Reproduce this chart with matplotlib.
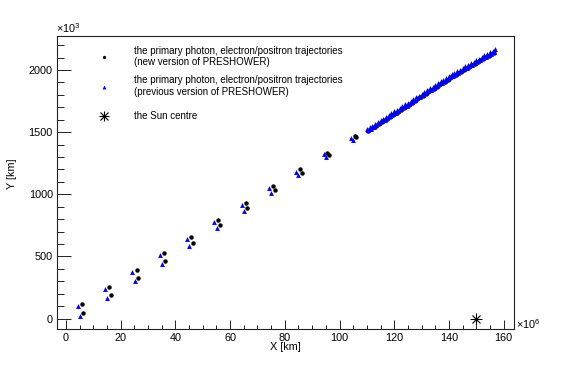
import matplotlib
matplotlib.use('Agg')
import matplotlib.pyplot as plt
from matplotlib.lines import Line2D
from matplotlib.legend_handler import HandlerTuple
from matplotlib.ticker import MultipleLocator

plt.rcParams['font.family'] = ['Liberation Sans', 'DejaVu Sans']
plt.rcParams['mathtext.fontset'] = 'custom'
plt.rcParams['mathtext.rm'] = 'Liberation Sans'

# X in 10^6 km, Y in 10^3 km
# the two trajectories of each run, sampled every 10^7 km up to ~106
x_new_pairs = [5.75, 6.35, 15.75, 16.4, 25.8, 26.3, 35.8, 36.3, 45.7, 46.3, 55.7, 56.3,
               65.7, 66.3, 75.7, 76.3, 85.6, 86.2, 95.5, 96.1, 105.6, 106.2]
y_new_pairs = [120, 48, 255, 188, 389, 325, 526, 466, 660, 611, 796, 751,
               930, 890, 1067, 1032, 1201, 1172, 1335, 1316, 1469, 1459]
x_prev_pairs = [4.4, 5.1, 14.4, 15.1, 24.3, 25.1, 34.3, 35.2, 44.3, 45.05, 54.2, 55.05,
                64.2, 65.1, 74.2, 75.1, 84.2, 84.9, 94.2, 94.9, 104.3, 104.9]
y_prev_pairs = [102, 22, 236, 164, 373, 303, 510, 443, 641, 585, 778, 727,
                912, 866, 1048, 1011, 1182, 1153, 1322, 1298, 1456, 1440]

# dense part of the trajectories beyond ~110
x_int = [110, 111, 112, 113, 114, 115, 116, 117, 118, 119, 120, 121, 122, 123, 124, 125,
         126, 127, 128, 129, 130, 131, 132, 133, 134, 135, 136, 137, 138, 139, 140, 141,
         142, 143, 144, 145, 146, 147, 148, 149, 150, 151, 152, 153, 154, 155, 156, 157]
x_half = [110.5, 111.5, 112.5, 113.5, 114.5, 115.5, 116.5, 117.5, 118.5, 119.5, 120.5,
          121.5, 122.5, 123.5, 124.5, 125.5, 126.5, 127.5, 128.5, 129.5, 130.5, 131.5,
          132.5, 133.5, 134.5, 135.5, 136.5, 137.5, 138.5, 139.5, 140.5, 141.5, 142.5,
          143.5, 144.5, 145.5, 146.5, 147.5, 148.5, 149.5, 150.5, 151.5, 152.5, 153.5,
          154.5, 155.5, 156.5]
y_prev_a = [1524, 1538, 1553, 1567, 1581, 1595, 1609, 1624, 1638, 1652, 1666, 1680, 1695, 1709,
            1723, 1737, 1751, 1766, 1780, 1794, 1808, 1822, 1837, 1851, 1865, 1879, 1893, 1908,
            1922, 1936, 1950, 1964, 1977, 1989, 2002, 2015, 2028, 2041, 2053, 2066, 2079, 2092,
            2105, 2117, 2130, 2143, 2154, 2166]
y_prev_b = [1515, 1529, 1544, 1558, 1572, 1586, 1600, 1615, 1629, 1643, 1657, 1671, 1686, 1700,
            1714, 1728, 1742, 1757, 1771, 1785, 1799, 1813, 1828, 1842, 1856, 1870, 1884, 1899,
            1913, 1927, 1941, 1954, 1967, 1979, 1992, 2005, 2018, 2031, 2043, 2056, 2069, 2082,
            2095, 2107, 2120, 2132, 2144]
y_new_dense = [1509, 1523, 1538, 1552, 1566, 1580, 1594, 1609, 1623, 1637, 1651, 1665, 1680,
               1694, 1708, 1722, 1736, 1751, 1765, 1779, 1793, 1807, 1822, 1836, 1850, 1864,
               1878, 1893, 1907, 1921, 1935, 1948, 1961, 1973, 1986, 1999, 2012, 2025, 2037,
               2050, 2063, 2076, 2089, 2101, 2114, 2126, 2138]

x_new = x_new_pairs + x_half
y_new = y_new_pairs + y_new_dense
x_prev = x_prev_pairs + x_int + x_half
y_prev = y_prev_pairs + y_prev_a + y_prev_b

sun_x = [150]
sun_y = [0]

labels = ['the primary photon, electron/positron trajectories\n(new version of PRESHOWER)',
          'the primary photon, electron/positron trajectories\n(previous version of PRESHOWER)',
          'the Sun centre']

fig = plt.figure(figsize=(5.72, 3.66), dpi=100)
ax = fig.add_axes([57 / 572, 37 / 366, 457 / 572, 293 / 366])

ax.plot(x_new, y_new, 'o', color='black', ms=3.2, mew=0, zorder=3)
ax.plot(x_prev, y_prev, '^', color='#0000ff', ms=3.5, mew=0, zorder=4)
ax.plot(sun_x, sun_y, '+', color='black', ms=8.6, mew=0.8, zorder=5)
ax.plot(sun_x, sun_y, 'x', color='black', ms=6.1, mew=0.8, zorder=5)
ax.plot(sun_x, sun_y, 'o', color='black', ms=2, mew=0, zorder=5)

ax.set_xlim(-3.3, 163.8)
ax.set_ylim(-83, 2273)

ax.xaxis.set_major_locator(MultipleLocator(20))
ax.xaxis.set_minor_locator(MultipleLocator(5))
ax.yaxis.set_major_locator(MultipleLocator(500))
ax.yaxis.set_minor_locator(MultipleLocator(100))
ax.tick_params(axis='both', which='both', direction='in', labelsize=7.8,
               top=False, right=False, width=0.7, color='#222222', pad=3)
ax.tick_params(axis='x', which='major', length=6.3)
ax.tick_params(axis='x', which='minor', length=3.2)
ax.tick_params(axis='y', which='major', length=9.9)
ax.tick_params(axis='y', which='minor', length=4.9)
for s in ax.spines.values():
    s.set_linewidth(0.8)
    s.set_color('#222222')

ax.set_xlabel('X [km]', fontsize=7.8)
ax.set_ylabel('Y [km]', fontsize=7.8)
ax.xaxis.set_label_coords(0.499, -0.044)
ax.yaxis.set_label_coords(-0.0875, 0.529)

ax.text(-0.002, 1.009, r'$\times10^{3}$', transform=ax.transAxes, fontsize=7.8,
        ha='left', va='baseline')
ax.text(1.004, 0.0, r'$\times10^{6}$', transform=ax.transAxes, fontsize=7.8,
        ha='left', va='baseline')

# legend, one entry per block so the spacing follows the original
h_new = Line2D([], [], ls='', marker='o', color='black', ms=2.4, mew=0)
h_prev = Line2D([], [], ls='', marker='^', color='#0000ff', ms=2.8, mew=0)
h_sun = (Line2D([], [], ls='', marker='+', color='black', ms=7.2, mew=0.8),
         Line2D([], [], ls='', marker='x', color='black', ms=5.1, mew=0.8))
entries = [(h_new, labels[0], 56.4), (h_prev, labels[1], 86), (h_sun, labels[2], 116)]
for h, lab, ypix in entries:
    leg = fig.legend([h], [lab], loc='center left',
                     bbox_to_anchor=(94.3 / 572, 1 - ypix / 366),
                     frameon=False, fontsize=7, handlelength=2, handletextpad=2.09,
                     borderpad=0, borderaxespad=0,
                     handler_map={tuple: HandlerTuple(ndivide=1, pad=0)})

fig.savefig('out.png', dpi=100)
